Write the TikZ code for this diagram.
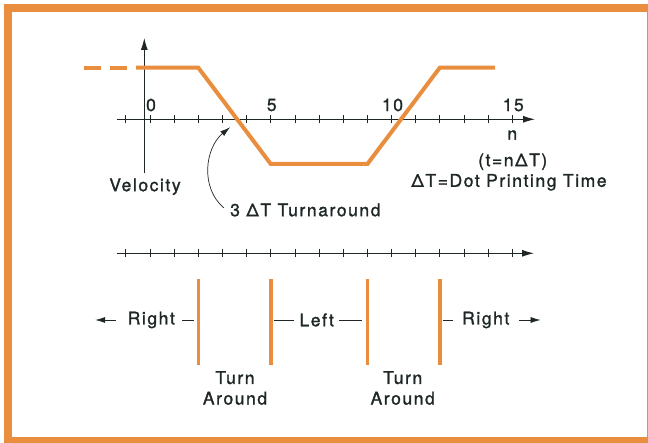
\documentclass[tikz,border=0pt]{standalone}
\usepackage{fontspec}
\setmainfont{TeX Gyre Heros}[LetterSpace=9,FakeBold=1.3]
\usetikzlibrary{arrows.meta}
\definecolor{hporange}{RGB}{232,142,62}
\definecolor{ink}{RGB}{30,38,38}
\tikzset{
  lbl/.style={text=ink,font=\fontsize{17.5}{20.6}\selectfont,inner sep=0pt},
  vel/.style={hporange,line width=4pt},
  tabar/.style={hporange,line width=3.5pt},
  axis/.style={ink,line width=.9pt,-{Latex[length=12pt,width=7pt]}},
  tick/.style={ink,line width=.8pt},
}
\begin{document}
\begin{tikzpicture}[x=1pt,y=1pt]
\useasboundingbox (0,0) rectangle (648,443);
\clip (0,0) rectangle (648,443);
\draw[hporange,line width=8pt] (8.3,2) rectangle (650.5,435.2);
% velocity plot
\draw[axis] (116.7,323.7) -- (535,323.7);
\draw[axis] (144.3,269.7) -- (144.3,405);
\foreach \n in {-1,...,15}\draw[tick] ({150+24.15*\n},319.7) -- ({150+24.15*\n},327.7);
\foreach \n in {0,5,10,15}\node[lbl] (num\n) at ({151+24.15*\n},338) {\n};
\draw[vel,dash pattern=on 16.5pt off 9.5pt] (84,375.3) -- (136,375.3);
\draw[vel] (136,375.3) -- (198.3,375.3) -- (270.8,279) -- (367.4,279) -- (439.8,375.3) -- (495,375.3);
\node[lbl] (vlab) at (145,256.3) {Velocity};
\node[lbl] (nlab) at (512.3,308) {n};
\node[lbl] (tlab) at (512.7,281.3) {(t=nΔT)};
\node[lbl] (dtlab) at (509,260.7) {ΔT=Dot Printing Time};
\node[lbl,anchor=west] (turn) at (230,233) {3 ΔT Turnaround};
\coordinate (cross) at (230,315.7);
\draw[ink,line width=.7pt,-{Latex[length=10pt,width=6pt]}] ([xshift=-6pt,yshift=2pt]turn.west) .. controls (200,255) and (205,295) .. (cross);
% direction of travel
\draw[axis] (116.7,189.7) -- (534,189.7);
\foreach \n in {-1,...,15}\draw[tick] ({150+24.15*\n},185.7) -- ({150+24.15*\n},193.7);
\foreach \n in {2,5,9,12}\draw[tabar] ({150+24.15*\n},78) -- ({150+24.15*\n},163.7);
\node[lbl] (rightl) at (151.3,123) {Right};
\node[lbl] (left) at (316.7,123) {Left};
\node[lbl] (rightr) at (485.8,123) {Right};
\draw[ink,line width=.7pt] ([xshift=7pt]rightl.east) -- ++(11.6,0);
\draw[ink,line width=.7pt] ([xshift=-5.7pt]left.west) -- ++(-20,0);
\draw[ink,line width=.7pt] ([xshift=5pt]left.east) -- ++(23.4,0);
\draw[ink,line width=.7pt] ([xshift=-8.7pt]rightr.west) -- ++(-10.7,0);
\draw[ink,line width=.7pt,-{Latex[length=10pt,width=6pt]}] ([xshift=-11.6pt]rightl.west) -- ++(-20.7,0);
\draw[ink,line width=.7pt,-{Latex[length=10pt,width=6pt]}] ([xshift=9.3pt]rightr.east) -- ++(21.7,0);
\node[lbl,align=center] (ta1) at (235,55) {Turn\\Around};
\node[lbl,align=center] (ta2) at (402.7,55) {Turn\\Around};
\end{tikzpicture}
\end{document}
